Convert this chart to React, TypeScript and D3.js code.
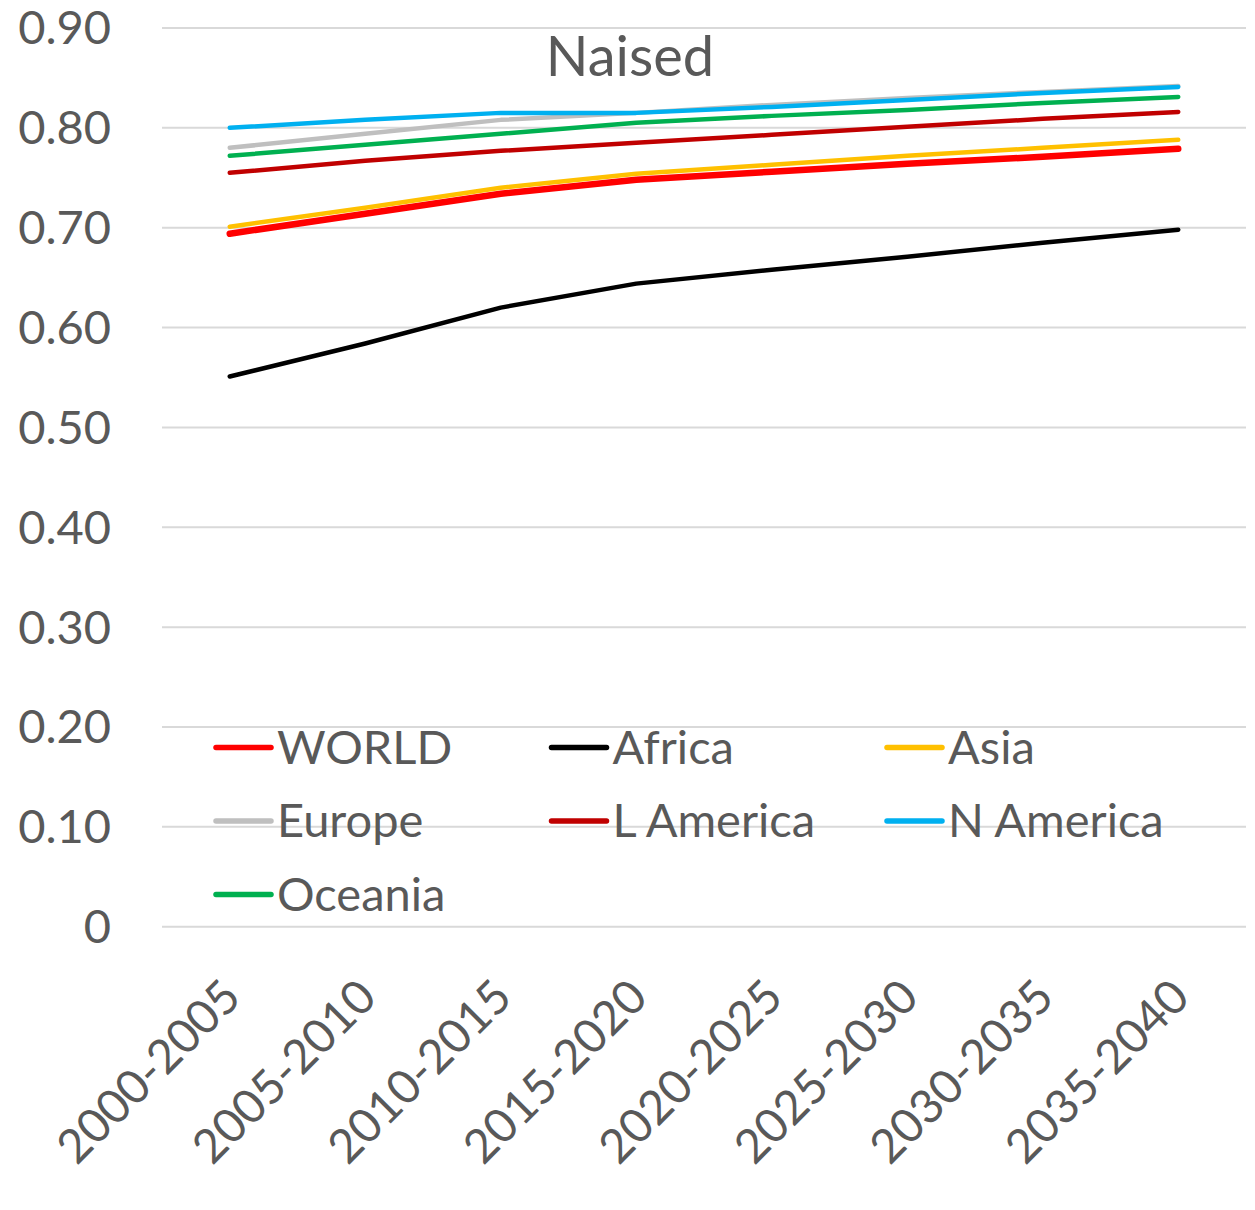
import React from "react";
import * as d3 from "d3";

const categories = ["2000-2005","2005-2010","2010-2015","2015-2020","2020-2025","2025-2030","2030-2035","2035-2040"];
const world = [0.694, 0.714, 0.734, 0.748, 0.756, 0.764, 0.771, 0.779];
const africa = [0.551, 0.584, 0.620, 0.644, 0.658, 0.671, 0.685, 0.698];
const asia = [0.701, 0.720, 0.740, 0.754, 0.763, 0.772, 0.780, 0.788];
const europe = [0.780, 0.794, 0.808, 0.815, 0.823, 0.830, 0.836, 0.842];
const lAmerica = [0.755, 0.767, 0.777, 0.785, 0.793, 0.801, 0.809, 0.816];
const nAmerica = [0.800, 0.808, 0.815, 0.815, 0.821, 0.828, 0.835, 0.841];
const oceania = [0.772, 0.783, 0.794, 0.805, 0.812, 0.818, 0.825, 0.831];
const yTicks = [0, 0.1, 0.2, 0.3, 0.4, 0.5, 0.6, 0.7, 0.8, 0.9];
const title = "Naised";

const series = [
  { name: "WORLD", values: world, color: "#FF0000", width: 6.5 },
  { name: "Africa", values: africa, color: "#000000", width: 4.5 },
  { name: "Asia", values: asia, color: "#FFC000", width: 4.5 },
  { name: "Europe", values: europe, color: "#BFBFBF", width: 4.5 },
  { name: "L America", values: lAmerica, color: "#C00000", width: 4.5 },
  { name: "N America", values: nAmerica, color: "#00B0F0", width: 4.5 },
  { name: "Oceania", values: oceania, color: "#00B050", width: 4.5 },
];

const FONT = "Lato, 'Open Sans', sans-serif";
const TEXT = "#595959";

export default function App() {
  const W = 1255, H = 1210;
  const left = 162, right = 1246, top = 28, bottom = 926.7;
  const x = d3.scaleBand<string>().domain(categories).range([left, right]);
  const y = d3.scaleLinear().domain([0, 0.9]).range([bottom, top]);
  const cx = (c: string) => (x(c) as number) + x.bandwidth() / 2;
  const line = d3.line<number>().x((_, i) => cx(categories[i])).y((v) => y(v));

  const legendX0 = 216, legendDX = 335.5, legendY0 = 747.5, legendDY = 73.5;

  return (
    <svg width={W} height={H} style={{ display: "block", position: "absolute", left: 0, top: 0 }}>
      <rect width={W} height={H} fill="#fff" />
      {yTicks.map((t) => (
        <g key={t}>
          <line x1={left} x2={right} y1={y(t)} y2={y(t)} stroke="#D9D9D9" strokeWidth={2} />
          <text x={111} y={y(t)} dy="0.35em" textAnchor="end" fontFamily={FONT} fontSize={47} fill={TEXT}>
            {t === 0 ? "0" : d3.format(".2f")(t)}
          </text>
        </g>
      ))}
      {categories.map((c) => (
        <text key={c} transform={`translate(${cx(c) + 2},${988}) rotate(-45)`} dy="0.35em" textAnchor="end"
          fontFamily={FONT} fontSize={47} fill={TEXT}>{c}</text>
      ))}
      <text x={630} y={76} textAnchor="middle" fontFamily={FONT} fontSize={56} fill={TEXT}>{title}</text>
      {series.map((s) => (
        <path key={s.name} d={line(s.values) as string} fill="none" stroke={s.color} strokeWidth={s.width}
          strokeLinecap="round" strokeLinejoin="round" />
      ))}
      {series.map((s, i) => {
        const col = i % 3, row = Math.floor(i / 3);
        const lx = legendX0 + col * legendDX, ly = legendY0 + row * legendDY;
        return (
          <g key={s.name}>
            <line x1={lx} x2={lx + 55} y1={ly} y2={ly} stroke={s.color} strokeWidth={5.5} strokeLinecap="round" />
            <text x={lx + 61} y={ly} dy="0.35em" fontFamily={FONT} fontSize={47} fill={TEXT}>{s.name}</text>
          </g>
        );
      })}
    </svg>
  );
}
